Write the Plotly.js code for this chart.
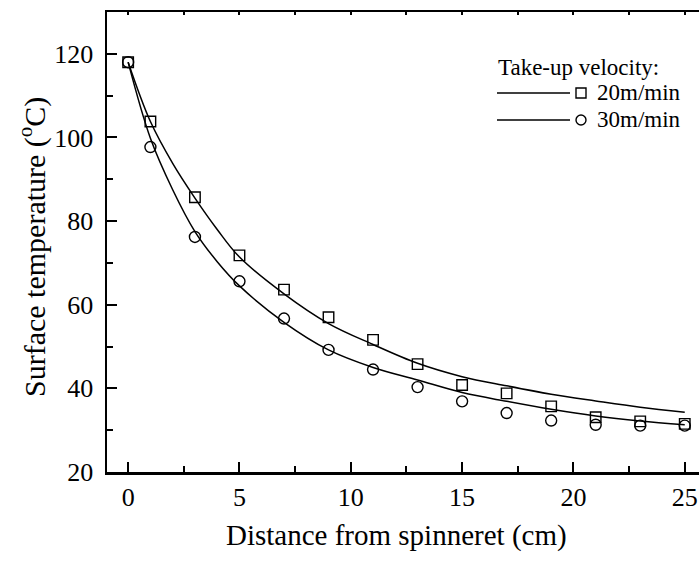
<!DOCTYPE html>
<html>
<head>
<meta charset="utf-8">
<script src="https://cdn.plot.ly/plotly-3.0.1.min.js"></script>
<style>html,body{margin:0;padding:0;background:#fff;}</style>
</head>
<body>
<div id="chart" style="width:699px;height:561px;"></div>
<script>
// Measured data points
const distX = [0, 1, 3, 5, 7, 9, 11, 13, 15, 17, 19, 21, 23, 25];
const temp20 = [118.0, 103.8, 85.7, 71.8, 63.6, 57.0, 51.6, 45.8, 40.8, 38.8, 35.7, 33.1, 32.1, 31.5];
const temp30 = [118.0, 97.7, 76.2, 65.6, 56.7, 49.2, 44.5, 40.3, 36.9, 34.1, 32.3, 31.3, 31.1, 31.1];

// Fitted curves
const fitX = [0, 1, 2, 3, 4, 5, 7, 9, 11, 13, 15, 17, 19, 21, 23, 25];
const fit20 = [118.0, 103.8, 93.8, 85.5, 78.0, 71.4, 62.6, 55.5, 50.5, 46.0, 42.8, 40.6, 38.6, 37.0, 35.5, 34.3];
const fit30 = [118.0, 99.8, 87.5, 77.5, 70.3, 64.5, 55.8, 49.2, 45.0, 42.0, 39.0, 36.9, 35.0, 33.4, 32.2, 31.3];

const seriesNames = ["20m/min", "30m/min"];
const legendTitle = "Take-up velocity:";
const xTitle = "Distance from spinneret (cm)";
const yTitle = "Surface temperature (<sup>o</sup>C)";

const FONT = "Liberation Serif";

const traces = [
  {x: fitX, y: fit20, mode: "lines", line: {color: "#000", width: 1.5, shape: "spline", smoothing: 1}, hoverinfo: "skip"},
  {x: fitX, y: fit30, mode: "lines", line: {color: "#000", width: 1.5, shape: "spline", smoothing: 1}, hoverinfo: "skip"},
  {x: distX, y: temp20, mode: "markers", name: seriesNames[0],
   marker: {symbol: "square-open", size: 10.5, color: "#000", line: {color: "#000", width: 1.4}}},
  {x: distX, y: temp30, mode: "markers", name: seriesNames[1],
   marker: {symbol: "circle-open", size: 11, color: "#000", line: {color: "#000", width: 1.4}}}
];

// layout geometry in pixels
const L = 107, T = 12, W = 592, H = 460;
const px = v => (v - L) / W;
const py = v => (T + H - v) / H;

const rows = [93, 120];
const shapes = [];
const annotations = [
  {xref: "paper", yref: "paper", x: px(496), y: py(68), xanchor: "left", yanchor: "middle",
   text: legendTitle, showarrow: false, font: {family: FONT, size: 23, color: "#000"}},
  {xref: "paper", yref: "paper", x: px(396), y: py(535), xanchor: "center", yanchor: "middle",
   text: xTitle, showarrow: false, font: {family: FONT, size: 29, color: "#000"}},
  {xref: "paper", yref: "paper", x: px(32), y: py(247), xanchor: "center", yanchor: "middle",
   text: yTitle, textangle: -90, showarrow: false, font: {family: FONT, size: 30, color: "#000"}}
];
rows.forEach((r, i) => {
  shapes.push({type: "line", xref: "paper", yref: "paper", x0: px(497), x1: px(570), y0: py(r), y1: py(r),
               line: {color: "#000", width: 1.5}});
  shapes.push({type: i === 0 ? "rect" : "circle", xref: "paper", yref: "paper",
               xsizemode: "pixel", ysizemode: "pixel", xanchor: px(581), yanchor: py(r),
               x0: -5, x1: 5, y0: -5, y1: 5, line: {color: "#000", width: 1.4}});
  annotations.push({xref: "paper", yref: "paper", x: px(595), y: py(r), xanchor: "left", yanchor: "middle",
                    text: seriesNames[i], showarrow: false, font: {family: FONT, size: 23, color: "#000"}});
});

const layout = {
  width: 699, height: 561,
  margin: {l: L, r: 0, t: T, b: 561 - T - H},
  paper_bgcolor: "#fff", plot_bgcolor: "#fff",
  showlegend: false,
  font: {family: FONT, color: "#000"},
  xaxis: {
    range: [-0.95, 25.64], dtick: 5, tick0: 0,
    ticks: "inside", ticklen: 10, tickwidth: 2, tickcolor: "#000",
    minor: {dtick: 2.5, ticks: "inside", ticklen: 6, tickwidth: 2, tickcolor: "#000"},
    showline: true, linewidth: 2.5, linecolor: "#000", mirror: false,
    showgrid: false, zeroline: false,
    tickfont: {family: FONT, size: 26, color: "#000"}
  },
  xaxis2: {
    overlaying: "x", side: "top", matches: "x", range: [-0.95, 25.64], dtick: 2.5, tick0: 0,
    ticks: "inside", ticklen: 3, tickwidth: 2, tickcolor: "#000",
    showline: true, linewidth: 2.5, linecolor: "#000",
    showticklabels: false, showgrid: false, zeroline: false
  },
  yaxis: {
    range: [20, 130], dtick: 20, tick0: 20,
    ticks: "inside", ticklen: 10, tickwidth: 2, tickcolor: "#000",
    minor: {dtick: 10, ticks: "inside", ticklen: 6, tickwidth: 2, tickcolor: "#000"},
    showline: true, linewidth: 2.5, linecolor: "#000", mirror: false,
    showgrid: false, zeroline: false, ticklabelstandoff: 6,
    tickfont: {family: FONT, size: 26, color: "#000"}
  },
  shapes: shapes,
  annotations: annotations
};

// invisible trace so the top axis renders
traces.push({x: [0], y: [20], xaxis: "x2", yaxis: "y", mode: "markers", marker: {opacity: 0}, hoverinfo: "skip"});

Plotly.newPlot("chart", traces, layout, {staticPlot: true, displayModeBar: false});
</script>
</body>
</html>
